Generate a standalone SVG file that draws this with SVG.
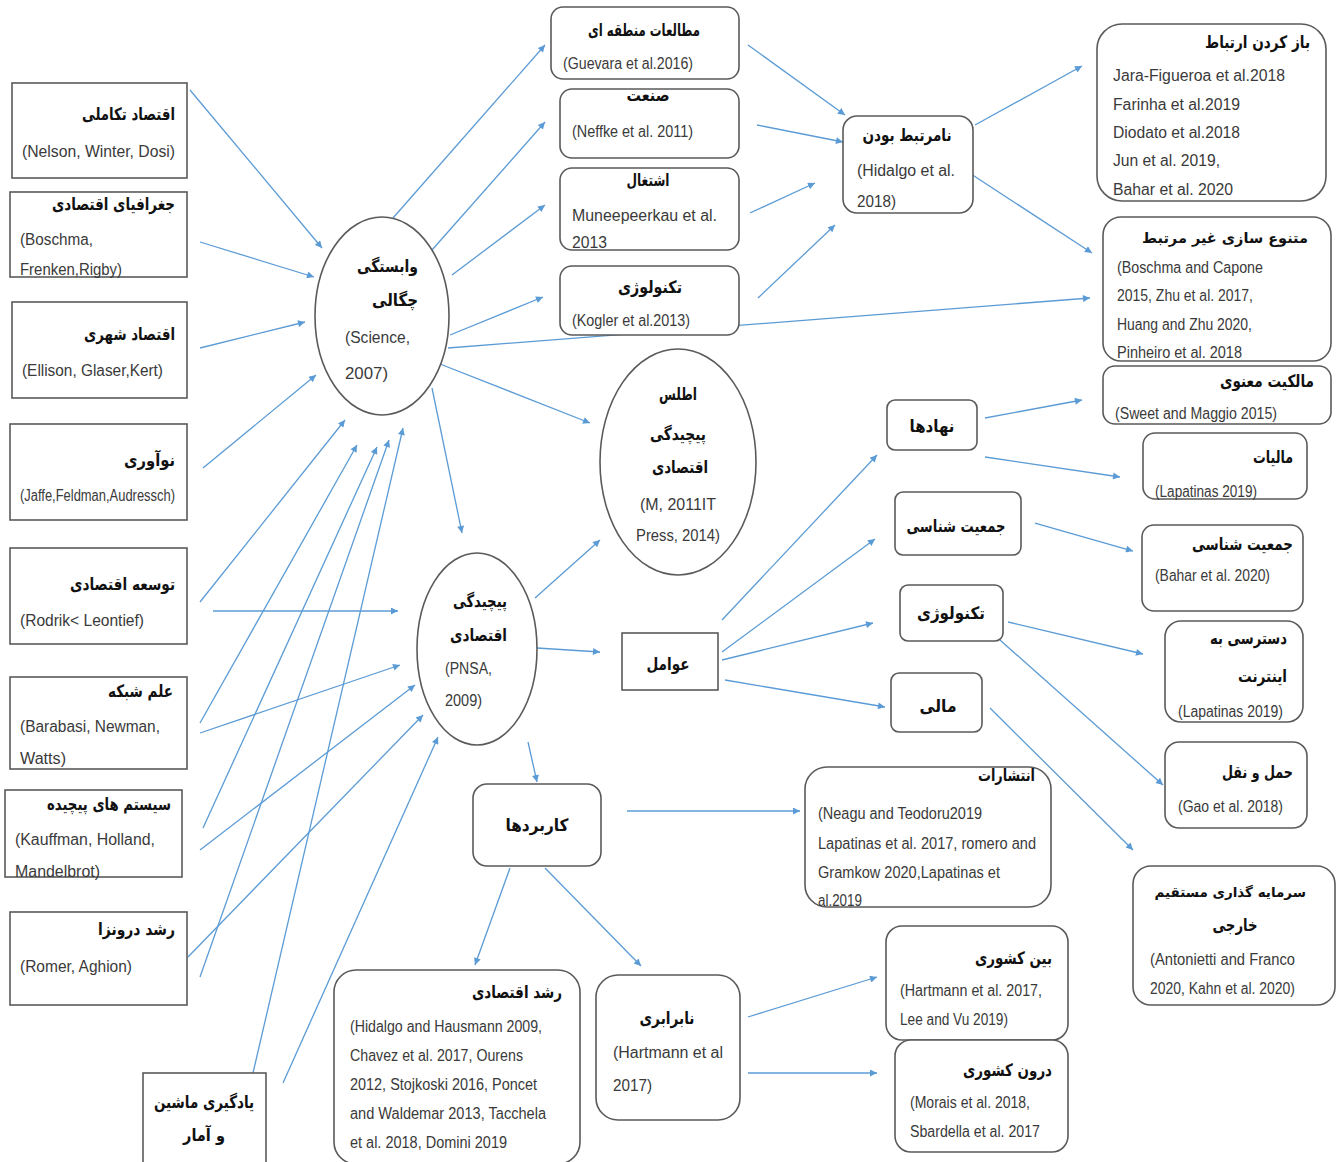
<svg xmlns="http://www.w3.org/2000/svg" width="1336" height="1162" viewBox="0 0 1336 1162">
<defs>
<style>
.bx{fill:#fff;stroke:#5a5a5a;stroke-width:1.6}
.t{font-family:"DejaVu Sans","Noto Sans",sans-serif;font-weight:bold;font-size:17px;fill:#111}
.r{font-family:"Liberation Sans Narrow","Liberation Sans",Arial,sans-serif;font-size:16px;fill:#3a3a3a}
.c line{stroke:#5b9bd5;stroke-width:1.3;marker-end:url(#ah)}
</style>
<marker id="ah" viewBox="0 0 10 10" refX="10" refY="5" markerWidth="9" markerHeight="7" markerUnits="userSpaceOnUse" orient="auto">
<path d="M0,0 L10,5 L0,10 z" fill="#5b9bd5"/>
</marker>
</defs>
<rect width="1336" height="1162" fill="#fff"/>

<g class="c" id="connectors">
<line x1="190" y1="90" x2="322" y2="248"/>
<line x1="200" y1="242" x2="314" y2="277"/>
<line x1="200" y1="348" x2="305" y2="322"/>
<line x1="203" y1="468" x2="316" y2="375"/>
<line x1="200" y1="602" x2="345" y2="420"/>
<line x1="200" y1="723" x2="357" y2="445"/>
<line x1="203" y1="828" x2="377" y2="447"/>
<line x1="200" y1="977" x2="389" y2="440"/>
<line x1="253" y1="1073" x2="403" y2="428"/>
<line x1="213" y1="611" x2="398" y2="611"/>
<line x1="200" y1="733" x2="400" y2="665"/>
<line x1="200" y1="850" x2="415" y2="685"/>
<line x1="188" y1="957" x2="423" y2="715"/>
<line x1="283" y1="1083" x2="438" y2="737"/>
<line x1="393" y1="218" x2="545" y2="45"/>
<line x1="432" y1="250" x2="545" y2="122"/>
<line x1="452" y1="275" x2="545" y2="205"/>
<line x1="450" y1="335" x2="543" y2="297"/>
<line x1="448" y1="348" x2="1090" y2="298"/>
<line x1="440" y1="364" x2="590" y2="423"/>
<line x1="432" y1="388" x2="462" y2="533"/>
<line x1="535" y1="598" x2="600" y2="540"/>
<line x1="537" y1="648" x2="600" y2="652"/>
<line x1="528" y1="742" x2="537" y2="782"/>
<line x1="748" y1="45" x2="845" y2="115"/>
<line x1="757" y1="125" x2="843" y2="142"/>
<line x1="750" y1="213" x2="815" y2="183"/>
<line x1="758" y1="298" x2="835" y2="225"/>
<line x1="975" y1="125" x2="1082" y2="66"/>
<line x1="968" y1="172" x2="1092" y2="253"/>
<line x1="985" y1="418" x2="1082" y2="400"/>
<line x1="985" y1="457" x2="1120" y2="477"/>
<line x1="1035" y1="523" x2="1133" y2="551"/>
<line x1="1008" y1="622" x2="1143" y2="654"/>
<line x1="1000" y1="640" x2="1163" y2="785"/>
<line x1="990" y1="708" x2="1133" y2="850"/>
<line x1="722" y1="620" x2="877" y2="455"/>
<line x1="722" y1="652" x2="875" y2="539"/>
<line x1="722" y1="660" x2="873" y2="623"/>
<line x1="725" y1="680" x2="885" y2="707"/>
<line x1="627" y1="811" x2="800" y2="811"/>
<line x1="510" y1="868" x2="475" y2="965"/>
<line x1="545" y1="868" x2="641" y2="966"/>
<line x1="748" y1="1017" x2="877" y2="977"/>
<line x1="748" y1="1073" x2="877" y2="1073"/>
</g>

<!-- left column -->
<g id="n-evolutionary">
<rect class="bx" x="12" y="83" width="175" height="95"/>
<text class="t" x="175" y="120" text-anchor="end" textLength="93" lengthAdjust="spacingAndGlyphs">اقتصاد تکاملی</text>
<text class="r" x="22" y="157" textLength="153" lengthAdjust="spacingAndGlyphs">(Nelson, Winter, Dosi)</text>
</g>
<g id="n-geography">
<rect class="bx" x="10" y="192" width="177" height="85"/>
<text class="t" x="175" y="210" text-anchor="end" textLength="123" lengthAdjust="spacingAndGlyphs">جغرافیای اقتصادی</text>
<text class="r" x="20" y="245" textLength="73" lengthAdjust="spacingAndGlyphs">(Boschma,</text>
<text class="r" x="20" y="275" textLength="102" lengthAdjust="spacingAndGlyphs">Frenken,Rigby)</text>
</g>
<g id="n-urban">
<rect class="bx" x="12" y="302" width="175" height="96"/>
<text class="t" x="175" y="340" text-anchor="end" textLength="91" lengthAdjust="spacingAndGlyphs">اقتصاد شهری</text>
<text class="r" x="22" y="376" textLength="141" lengthAdjust="spacingAndGlyphs">(Ellison, Glaser,Kert)</text>
</g>
<g id="n-innovation">
<rect class="bx" x="10" y="424" width="177" height="96"/>
<text class="t" x="175" y="466" text-anchor="end" textLength="51" lengthAdjust="spacingAndGlyphs">نوآوری</text>
<text class="r" x="20" y="501" textLength="155" lengthAdjust="spacingAndGlyphs">(Jaffe,Feldman,Audressch)</text>
</g>
<g id="n-development">
<rect class="bx" x="10" y="548" width="177" height="96"/>
<text class="t" x="175" y="590" text-anchor="end" textLength="105" lengthAdjust="spacingAndGlyphs">توسعه اقتصادی</text>
<text class="r" x="20" y="626" textLength="124" lengthAdjust="spacingAndGlyphs">(Rodrik&lt; Leontief)</text>
</g>
<g id="n-network">
<rect class="bx" x="10" y="677" width="177" height="92"/>
<text class="t" x="173" y="697" text-anchor="end" textLength="65" lengthAdjust="spacingAndGlyphs">علم شبکه</text>
<text class="r" x="20" y="732" textLength="140" lengthAdjust="spacingAndGlyphs">(Barabasi, Newman,</text>
<text class="r" x="20" y="764" textLength="46" lengthAdjust="spacingAndGlyphs">Watts)</text>
</g>
<g id="n-complex">
<rect class="bx" x="5" y="790" width="177" height="87"/>
<text class="t" x="171" y="810" text-anchor="end" textLength="124" lengthAdjust="spacingAndGlyphs">سیستم های پیچیده</text>
<text class="r" x="15" y="845" textLength="140" lengthAdjust="spacingAndGlyphs">(Kauffman, Holland,</text>
<text class="r" x="15" y="877" textLength="85" lengthAdjust="spacingAndGlyphs">Mandelbrot)</text>
</g>
<g id="n-endogenous">
<rect class="bx" x="10" y="912" width="177" height="93"/>
<text class="t" x="175" y="935" text-anchor="end" textLength="77" lengthAdjust="spacingAndGlyphs">رشد درونزا</text>
<text class="r" x="20" y="972" textLength="112" lengthAdjust="spacingAndGlyphs">(Romer, Aghion)</text>
</g>
<g id="n-ml">
<rect class="bx" x="143" y="1073" width="123" height="92"/>
<text class="t" x="204" y="1108" text-anchor="middle" textLength="100" lengthAdjust="spacingAndGlyphs">یادگیری ماشین</text>
<text class="t" x="204" y="1141" text-anchor="middle" textLength="42" lengthAdjust="spacingAndGlyphs">و آمار</text>
</g>

<!-- circles -->
<g id="n-relatedness">
<ellipse class="bx" cx="382" cy="316" rx="67" ry="99"/>
<text class="t" x="418" y="272" text-anchor="end" textLength="61" lengthAdjust="spacingAndGlyphs">وابستگی</text>
<text class="t" x="418" y="306" text-anchor="end" textLength="46" lengthAdjust="spacingAndGlyphs">چگالی</text>
<text class="r" x="345" y="343" textLength="65" lengthAdjust="spacingAndGlyphs">(Science,</text>
<text class="r" x="345" y="379" textLength="43" lengthAdjust="spacingAndGlyphs">2007)</text>
</g>
<g id="n-complexity">
<ellipse class="bx" cx="477" cy="649" rx="60" ry="96"/>
<text class="t" x="507" y="607" text-anchor="end" textLength="54" lengthAdjust="spacingAndGlyphs">پیچیدگی</text>
<text class="t" x="507" y="641" text-anchor="end" textLength="57" lengthAdjust="spacingAndGlyphs">اقتصادی</text>
<text class="r" x="445" y="674" textLength="47" lengthAdjust="spacingAndGlyphs">(PNSA,</text>
<text class="r" x="445" y="706" textLength="37" lengthAdjust="spacingAndGlyphs">2009)</text>
</g>
<g id="n-atlas">
<ellipse class="bx" cx="678" cy="462" rx="78" ry="113"/>
<text class="t" x="678" y="400" text-anchor="middle" textLength="38" lengthAdjust="spacingAndGlyphs">اطلس</text>
<text class="t" x="678" y="440" text-anchor="middle" textLength="56" lengthAdjust="spacingAndGlyphs">پیچیدگی</text>
<text class="t" x="680" y="473" text-anchor="middle" textLength="56" lengthAdjust="spacingAndGlyphs">اقتصادی</text>
<text class="r" x="678" y="510" text-anchor="middle" textLength="76" lengthAdjust="spacingAndGlyphs">(M, 2011IT</text>
<text class="r" x="678" y="541" text-anchor="middle" textLength="84" lengthAdjust="spacingAndGlyphs">Press, 2014)</text>
</g>

<!-- top middle -->
<g id="n-regional">
<rect class="bx" x="551" y="7" width="188" height="72" rx="12"/>
<text class="t" x="644" y="36" text-anchor="middle" textLength="112" lengthAdjust="spacingAndGlyphs">مطالعات منطقه ای</text>
<text class="r" x="563" y="69" textLength="130" lengthAdjust="spacingAndGlyphs">(Guevara et al.2016)</text>
</g>
<g id="n-industry">
<rect class="bx" x="560" y="89" width="179" height="69" rx="12"/>
<text class="t" x="648" y="101" text-anchor="middle" textLength="43" lengthAdjust="spacingAndGlyphs">صنعت</text>
<text class="r" x="572" y="137" textLength="121" lengthAdjust="spacingAndGlyphs">(Neffke  et al. 2011)</text>
</g>
<g id="n-employment">
<rect class="bx" x="560" y="168" width="179" height="82" rx="12"/>
<text class="t" x="648" y="186" text-anchor="middle" textLength="43" lengthAdjust="spacingAndGlyphs">اشتغال</text>
<text class="r" x="572" y="221" textLength="145" lengthAdjust="spacingAndGlyphs">Muneepeerkau  et al.</text>
<text class="r" x="572" y="248" textLength="35" lengthAdjust="spacingAndGlyphs">2013</text>
</g>
<g id="n-technology-top">
<rect class="bx" x="560" y="266" width="179" height="69" rx="12"/>
<text class="t" x="650" y="293" text-anchor="middle" textLength="64" lengthAdjust="spacingAndGlyphs">تکنولوژی</text>
<text class="r" x="572" y="326" textLength="118" lengthAdjust="spacingAndGlyphs">(Kogler et al.2013)</text>
</g>
<g id="n-unrelated">
<rect class="bx" x="843" y="116" width="130" height="97" rx="14"/>
<text class="t" x="907" y="141" text-anchor="middle" textLength="89" lengthAdjust="spacingAndGlyphs">نامرتبط بودن</text>
<text class="r" x="857" y="176" textLength="98" lengthAdjust="spacingAndGlyphs">(Hidalgo et al.</text>
<text class="r" x="857" y="207" textLength="39" lengthAdjust="spacingAndGlyphs">2018)</text>
</g>

<!-- right column -->
<g id="n-open">
<rect class="bx" x="1097" y="24" width="229" height="177" rx="25"/>
<text class="t" x="1310" y="48" text-anchor="end" textLength="105" lengthAdjust="spacingAndGlyphs">باز کردن ارتباط</text>
<text class="r" x="1113" y="81" textLength="172" lengthAdjust="spacingAndGlyphs">Jara-Figueroa et al.2018</text>
<text class="r" x="1113" y="110" textLength="127" lengthAdjust="spacingAndGlyphs">Farinha et al.2019</text>
<text class="r" x="1113" y="138" textLength="127" lengthAdjust="spacingAndGlyphs">Diodato et al.2018</text>
<text class="r" x="1113" y="166" textLength="107" lengthAdjust="spacingAndGlyphs">Jun et al. 2019,</text>
<text class="r" x="1113" y="195" textLength="120" lengthAdjust="spacingAndGlyphs">Bahar et al. 2020</text>
</g>
<g id="n-diversification">
<rect class="bx" x="1103" y="217" width="228" height="144" rx="18"/>
<text class="t" x="1308" y="243" text-anchor="end" style="font-size:14.5px">متنوع سازی غیر مرتبط</text>
<text class="r" x="1117" y="273" textLength="146" lengthAdjust="spacingAndGlyphs">(Boschma and Capone</text>
<text class="r" x="1117" y="301" textLength="136" lengthAdjust="spacingAndGlyphs">2015, Zhu et al. 2017,</text>
<text class="r" x="1117" y="330" textLength="135" lengthAdjust="spacingAndGlyphs">Huang and Zhu 2020,</text>
<text class="r" x="1117" y="358" textLength="125" lengthAdjust="spacingAndGlyphs">Pinheiro et al. 2018</text>
</g>
<g id="n-ip">
<rect class="bx" x="1103" y="366" width="228" height="58" rx="12"/>
<text class="t" x="1314" y="387" text-anchor="end" textLength="94" lengthAdjust="spacingAndGlyphs">مالکیت معنوی</text>
<text class="r" x="1115" y="419" textLength="162" lengthAdjust="spacingAndGlyphs">(Sweet and Maggio 2015)</text>
</g>
<g id="n-tax">
<rect class="bx" x="1143" y="433" width="164" height="66" rx="12"/>
<text class="t" x="1293" y="463" text-anchor="end" textLength="40" lengthAdjust="spacingAndGlyphs">مالیات</text>
<text class="r" x="1155" y="497" textLength="102" lengthAdjust="spacingAndGlyphs">(Lapatinas 2019)</text>
</g>
<g id="n-demography-right">
<rect class="bx" x="1142" y="525" width="161" height="86" rx="12"/>
<text class="t" x="1293" y="550" text-anchor="end" textLength="101" lengthAdjust="spacingAndGlyphs">جمعیت شناسی</text>
<text class="r" x="1155" y="581" textLength="115" lengthAdjust="spacingAndGlyphs">(Bahar et al. 2020)</text>
</g>
<g id="n-internet">
<rect class="bx" x="1165" y="621" width="138" height="101" rx="16"/>
<text class="t" x="1287" y="644" text-anchor="end" textLength="77" lengthAdjust="spacingAndGlyphs">دسترسی به</text>
<text class="t" x="1287" y="682" text-anchor="end" textLength="49" lengthAdjust="spacingAndGlyphs">اینترنت</text>
<text class="r" x="1178" y="717" textLength="105" lengthAdjust="spacingAndGlyphs">(Lapatinas 2019)</text>
</g>
<g id="n-transport">
<rect class="bx" x="1165" y="742" width="142" height="86" rx="14"/>
<text class="t" x="1293" y="778" text-anchor="end" textLength="71" lengthAdjust="spacingAndGlyphs">حمل و نقل</text>
<text class="r" x="1178" y="812" textLength="105" lengthAdjust="spacingAndGlyphs">(Gao et al. 2018)</text>
</g>
<g id="n-fdi">
<rect class="bx" x="1133" y="866" width="202" height="139" rx="18"/>
<text class="t" x="1306" y="897" text-anchor="end" style="font-size:13.5px">سرمایه گذاری مستقیم</text>
<text class="t" x="1235" y="931" text-anchor="middle" textLength="45" lengthAdjust="spacingAndGlyphs">خارجی</text>
<text class="r" x="1150" y="965" textLength="145" lengthAdjust="spacingAndGlyphs">(Antonietti and Franco</text>
<text class="r" x="1150" y="994" textLength="145" lengthAdjust="spacingAndGlyphs">2020,  Kahn et al. 2020)</text>
</g>

<!-- factors -->
<g id="n-factors">
<rect class="bx" x="622" y="633" width="96" height="57"/>
<text class="t" x="668" y="670" text-anchor="middle" textLength="43" lengthAdjust="spacingAndGlyphs">عوامل</text>
</g>
<g id="n-institutions">
<rect class="bx" x="887" y="400" width="90" height="50" rx="8"/>
<text class="t" x="932" y="432" text-anchor="middle" textLength="45" lengthAdjust="spacingAndGlyphs">نهادها</text>
</g>
<g id="n-demography">
<rect class="bx" x="895" y="492" width="126" height="63" rx="8"/>
<text class="t" x="956" y="532" text-anchor="middle" textLength="99" lengthAdjust="spacingAndGlyphs">جمعیت شناسی</text>
</g>
<g id="n-technology">
<rect class="bx" x="900" y="585" width="103" height="56" rx="8"/>
<text class="t" x="951" y="619" text-anchor="middle" textLength="68" lengthAdjust="spacingAndGlyphs">تکنولوژی</text>
</g>
<g id="n-finance">
<rect class="bx" x="891" y="673" width="91" height="59" rx="8"/>
<text class="t" x="938" y="712" text-anchor="middle" textLength="37" lengthAdjust="spacingAndGlyphs">مالی</text>
</g>

<!-- applications -->
<g id="n-applications">
<rect class="bx" x="473" y="784" width="128" height="82" rx="14"/>
<text class="t" x="537" y="831" text-anchor="middle" textLength="63" lengthAdjust="spacingAndGlyphs">کاربردها</text>
</g>
<g id="n-growth">
<rect class="bx" x="334" y="970" width="246" height="194" rx="22"/>
<text class="t" x="562" y="998" text-anchor="end" textLength="90" lengthAdjust="spacingAndGlyphs">رشد اقتصادی</text>
<text class="r" x="350" y="1032" textLength="192" lengthAdjust="spacingAndGlyphs">(Hidalgo and Hausmann 2009,</text>
<text class="r" x="350" y="1061" textLength="173" lengthAdjust="spacingAndGlyphs">Chavez et al. 2017,  Ourens</text>
<text class="r" x="350" y="1090" textLength="187" lengthAdjust="spacingAndGlyphs">2012,  Stojkoski 2016, Poncet</text>
<text class="r" x="350" y="1119" textLength="196" lengthAdjust="spacingAndGlyphs">and Waldemar 2013, Tacchela</text>
<text class="r" x="350" y="1148" textLength="157" lengthAdjust="spacingAndGlyphs">et al. 2018,  Domini 2019</text>
</g>
<g id="n-inequality">
<rect class="bx" x="596" y="975" width="144" height="145" rx="22"/>
<text class="t" x="667" y="1024" text-anchor="middle" textLength="55" lengthAdjust="spacingAndGlyphs">نابرابری</text>
<text class="r" x="613" y="1058" textLength="110" lengthAdjust="spacingAndGlyphs">(Hartmann et al</text>
<text class="r" x="613" y="1091" textLength="39" lengthAdjust="spacingAndGlyphs">2017)</text>
</g>
<g id="n-emissions">
<rect class="bx" x="805" y="767" width="246" height="140" rx="22"/>
<text class="t" x="1035" y="781" text-anchor="end" textLength="57" lengthAdjust="spacingAndGlyphs">انتشارات</text>
<text class="r" x="818" y="819" textLength="164" lengthAdjust="spacingAndGlyphs">(Neagu and Teodoru2019</text>
<text class="r" x="818" y="849" textLength="218" lengthAdjust="spacingAndGlyphs">Lapatinas et al. 2017,  romero and</text>
<text class="r" x="818" y="878" textLength="182" lengthAdjust="spacingAndGlyphs">Gramkow 2020,Lapatinas et</text>
<text class="r" x="818" y="906" textLength="44" lengthAdjust="spacingAndGlyphs">al.2019</text>
</g>
<g id="n-between">
<rect class="bx" x="886" y="926" width="182" height="114" rx="16"/>
<text class="t" x="1052" y="964" text-anchor="end" textLength="77" lengthAdjust="spacingAndGlyphs">بین کشوری</text>
<text class="r" x="900" y="996" textLength="142" lengthAdjust="spacingAndGlyphs">(Hartmann et al. 2017,</text>
<text class="r" x="900" y="1025" textLength="108" lengthAdjust="spacingAndGlyphs">Lee and Vu 2019)</text>
</g>
<g id="n-within">
<rect class="bx" x="895" y="1040" width="173" height="112" rx="16"/>
<text class="t" x="1052" y="1076" text-anchor="end" textLength="89" lengthAdjust="spacingAndGlyphs">درون کشوری</text>
<text class="r" x="910" y="1108" textLength="120" lengthAdjust="spacingAndGlyphs">(Morais et al. 2018,</text>
<text class="r" x="910" y="1137" textLength="130" lengthAdjust="spacingAndGlyphs">Sbardella et al. 2017</text>
</g>
</svg>
